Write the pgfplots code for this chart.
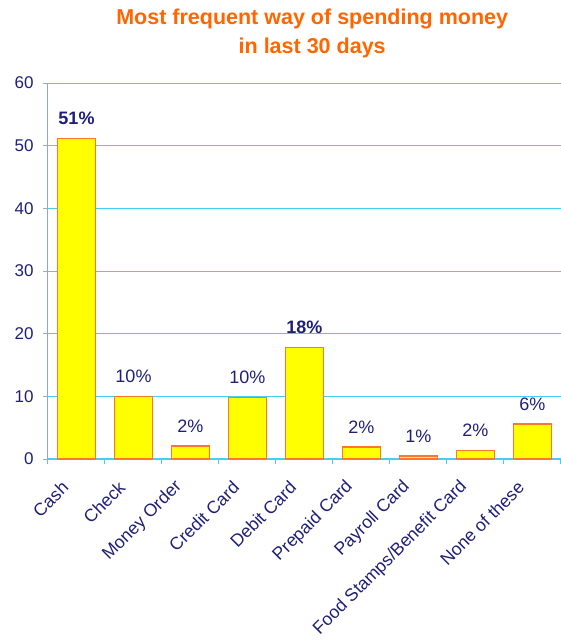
\documentclass[border=0pt]{standalone}
\usepackage{pgfplots}
\pgfplotsset{compat=1.18}
\usepackage{fontspec}
\setmainfont{Liberation Sans}

\definecolor{navy}{RGB}{31,31,120}
\definecolor{titleorange}{RGB}{255,102,0}
\definecolor{barfill}{RGB}{255,255,0}
\definecolor{baredge}{RGB}{255,120,40}
\definecolor{gridcyan}{RGB}{70,205,240}
\definecolor{yaxisgray}{RGB}{140,170,185}
\definecolor{tickgray}{RGB}{170,170,170}

\begin{document}
\begin{tikzpicture}
\begin{axis}[
    scale only axis, width=513pt, height=376pt,
    xmin=-0.5, xmax=8.5, ymin=0, ymax=60,
    axis x line*=bottom, axis y line*=left,
    x axis line style={-, gridcyan, line width=1.6pt},
    y axis line style={-, yaxisgray, line width=1pt},
    ymajorgrids, major grid style={gridcyan, line width=0.8pt},
    tick align=outside, major tick length=5pt,
    ytick={0,10,...,60},
    ytick style={tickgray, line width=1pt},
    xtick={-0.5,0.5,...,8.5}, xticklabels=\empty,
    xtick style={gridcyan, line width=1pt},
    extra x ticks={0,...,8},
    extra x tick labels={Cash,Check,Money Order,Credit Card,Debit Card,Prepaid Card,Payroll Card,Food Stamps/Benefit Card,None of these},
    extra x tick style={major tick length=0pt,
        xticklabel style={xshift=-9pt, yshift=-23pt, rotate=45, anchor=east,
            font=\fontsize{17.7}{20}\selectfont}},
    /pgf/number format/assume math mode=true,
    ticklabel style={font=\fontsize{17}{20}\selectfont, text=navy},
    yticklabel style={xshift=-6pt},
    title={Most frequent way of spending money\\in last 30 days},
    title style={at={(0.515,1)}, anchor=south, yshift=16pt, align=center,
        font=\fontsize{21.5}{29}\selectfont\bfseries, text=titleorange},
]
\addplot[ybar, bar width=38pt, fill=barfill, draw=baredge, line width=1.4pt,
    nodes near coords, point meta=explicit symbolic,
    every node near coord/.style={font=\fontsize{18}{20}\selectfont, text=navy,
        anchor=south, inner sep=0pt, yshift=13pt}]
coordinates {
    (0,51.1) [\textbf{51\%}]
    (1,10.0) [10\%]
    (2,2.1) [2\%]
    (3,9.8) [10\%]
    (4,17.8) [\textbf{18\%}]
    (5,1.9) [2\%]
    (6,0.5) [1\%]
    (7,1.4) [2\%]
    (8,5.6) [6\%]
};
\end{axis}
\pgfresetboundingbox
\path (-48pt,-182pt) rectangle (513pt,459pt);
\end{tikzpicture}
\end{document}
